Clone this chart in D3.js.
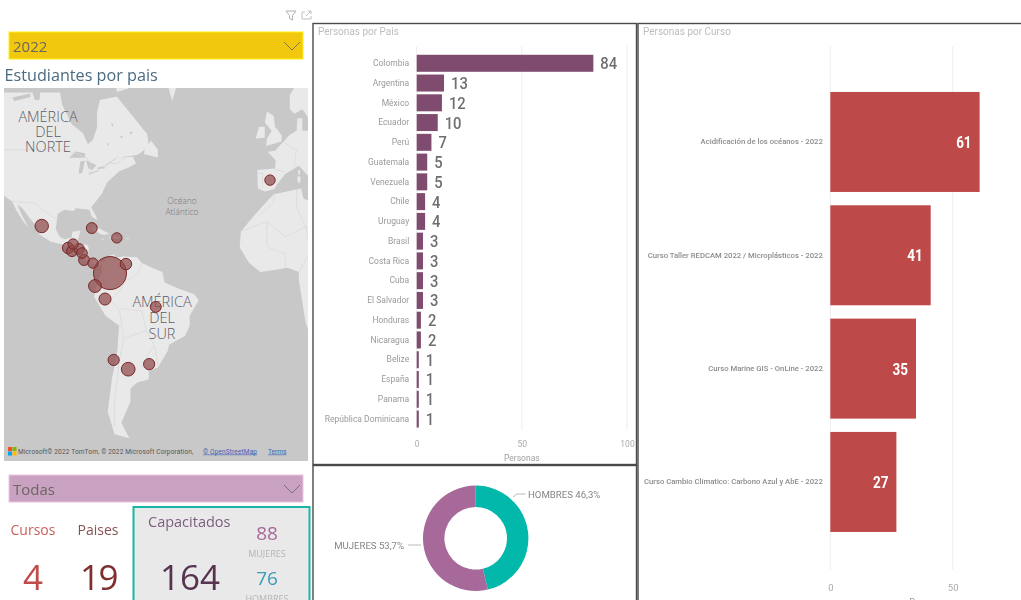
<!DOCTYPE html>
<html>
<head>
<meta charset="utf-8">
<script src="https://cdn.jsdelivr.net/npm/d3@7"></script>
<style>
  html, body { margin: 0; padding: 0; background: #fff; overflow: hidden; }
  svg { display: block; filter: blur(0.55px); }
  text { font-family: Roboto, sans-serif; }
  .segoe { font-family: "Open Sans", sans-serif; }
</style>
</head>
<body>
<div id="root"></div>
<script>
// country chart
const countries = ['Colombia', 'Argentina', 'México', 'Ecuador', 'Perú', 'Guatemala', 'Venezuela', 'Chile', 'Uruguay', 'Brasil', 'Costa Rica', 'Cuba', 'El Salvador', 'Honduras', 'Nicaragua', 'Belize', 'España', 'Panama', 'República Dominicana']
const countryValues = [84, 13, 12, 10, 7, 5, 5, 4, 4, 3, 3, 3, 3, 2, 2, 1, 1, 1, 1]
const countryTicks = [0, 50, 100]

// course chart
const courses = ['Acidificación de los océanos - 2022', 'Curso Taller REDCAM 2022 / Microplásticos - 2022', 'Curso Marine GIS - OnLine - 2022', 'Curso Cambio Climatico: Carbono Azul y AbE - 2022']
const courseValues = [61, 41, 35, 27]
const courseTicks = [0, 50]

// donut
const genders = ['HOMBRES', 'MUJERES']
const genderShares = [46.3, 53.7]
const genderColors = ['#01b8aa', '#a66999']

// bubble positions, same order as countries: [lon, lat]
const countryCoords = [[-74, 4], [-66, -34.5], [-104, 23.3], [-80.6, -1.5], [-76.2, -7], [-92.4, 14.5], [-67, 7.8], [-72.4, -31.2], [-56.8, -32.7], [-53.9, -10.3], [-85.4, 9.5], [-82, 22.5], [-90.7, 13.2], [-87.6, 14.1], [-86.3, 12.4], [-90.2, 16.1], [-3.7, 39.8], [-81.5, 8.2], [-71, 18.6]]

// rough coastlines for the base map: [lon, lat]
const landShapes = [
  [[-130, 62.5], [-96, 62.5], [-95, 60], [-90.7, 55.5], [-85.9, 53.4], [-83.7, 50.5], [-81.5, 51.7], [-79.7, 54.8], [-79.7, 58.3], [-78.4, 61], [-71, 61.7], [-66.5, 59], [-57.7, 53.2], [-56.8, 49.9], [-62, 47.5], [-70, 46.8], [-64, 47], [-62.6, 45], [-66, 43.7], [-70, 42.6], [-75.3, 39], [-77.5, 35.3], [-82.3, 30.3], [-80, 27], [-79.7, 25.5], [-82, 27], [-83, 29.5], [-85, 29.7], [-89, 30], [-90, 29], [-94, 29.5], [-97, 28], [-97.8, 22], [-96, 19], [-94, 18], [-91, 18.7], [-90.5, 21], [-87, 21.5], [-88, 18], [-88.5, 16], [-84, 15.8], [-83.3, 14.5], [-83.7, 11], [-82, 9], [-79.5, 9.5], [-77.5, 8.5], [-78, 7.5], [-80, 7.4], [-83, 8.2], [-85.7, 10], [-87.5, 13], [-92, 14.5], [-95, 16], [-100, 17], [-105, 20], [-106, 23], [-109, 26], [-112.5, 30], [-114.7, 31.5], [-113, 28], [-110, 23], [-112, 25], [-115, 29], [-117, 32.5], [-120.5, 34.5], [-124, 40], [-124, 48], [-130, 54]],
  [[-77.5, 8.5], [-75, 11], [-72, 12], [-71.5, 10.5], [-68, 11], [-62, 10.7], [-60, 8.3], [-55, 6], [-51, 4.5], [-50, 0], [-44, -2.5], [-37, -5], [-35, -7.5], [-39, -14], [-39, -18], [-41, -22], [-48, -25.5], [-48.7, -28], [-53, -34], [-57, -34.7], [-57, -38], [-62, -39], [-65, -41], [-65, -45], [-69, -51], [-65.5, -55], [-72, -54], [-75, -48], [-73, -37], [-71, -30], [-70, -18], [-76, -14], [-81, -6], [-80, -2], [-79, 1.5], [-77.5, 4], [-77.5, 7]],
  [[-50, 66], [-46.7, 60.8], [-43, 66]],
  [[-72, 66], [-65, 66], [-66, 63.2], [-71, 62.6]],
  [[-59, 47.7], [-53, 46.8], [-53, 49], [-56, 51.5], [-59, 48.5]],
  [[-85, 22], [-80, 23], [-74.2, 20.2], [-77.5, 19.9], [-82, 22]],
  [[-74.4, 18.5], [-72.5, 19.9], [-68.4, 18.7], [-71, 18]],
  [[-78.3, 18.4], [-76.3, 18.2], [-77, 17.8]],
  [[-67.2, 18.5], [-65.6, 18.4], [-66, 17.9]],
  [[-5.5, 50], [1.3, 51.2], [1.5, 52.8], [-1.5, 55], [-2, 57.5], [-5, 58.5], [-6, 56], [-3, 54], [-5, 52]],
  [[-10, 52], [-6, 52.2], [-6, 55], [-8.5, 55]],
  [[-9, 37], [-9.3, 43], [-1.5, 43.5], [-1.2, 46], [-4.7, 48.4], [-1.5, 48.7], [2, 51], [5, 53], [8, 54], [8.3, 57], [10.5, 57], [10.5, 54], [14, 54], [40, 55], [40, 40], [30, 45], [13, 45.5], [18, 40], [16, 38.5], [12, 42], [9, 44.3], [6, 43], [3, 41.8], [0, 39], [-2, 36.8], [-6, 36]],
  [[7, 58], [5, 59], [5, 62], [14, 68], [30, 72], [30, 60], [18, 60], [14, 56], [12, 58], [10.5, 59]],
  [[8.3, 41], [9.7, 41], [9.6, 39], [8.5, 39]],
  [[8.7, 43], [9.5, 43], [9.4, 41.5], [8.8, 41.5]],
  [[12.5, 38], [15.5, 38.2], [15, 36.8]],
  [[-16.5, 21], [-13, 25], [-9.5, 28.5], [-4, 33.5], [-2, 35], [10, 37], [11, 33.5], [20, 31], [35, 31], [50, 10], [40, -15], [20, -35], [12, -17], [9, 1], [9, 4.5], [4, 6.3], [-4, 5], [-8, 4.4], [-13, 8.5], [-17, 14.7]]
]
// lakes and channels, painted back in sea colour
const waterShapes = [
  [[-92, 46.7], [-85, 46.7], [-85, 48], [-89, 48.5]],
  [[-87.8, 42], [-86.3, 42], [-85, 45.8], [-87, 45.6]],
  [[-84.5, 46], [-80, 44.5], [-81.8, 43], [-83.5, 43.5]],
  [[-83.5, 41.5], [-79, 42.7], [-79, 43], [-83, 42.2]],
  [[-79.7, 43.3], [-76.2, 43.5], [-76.5, 44.2], [-79, 43.9]],
  [[-76, 44.2], [-71, 46.6], [-70.5, 47], [-75.5, 44.8]],
  [[-117, 61.5], [-109, 62.3], [-109, 61.6], [-116, 60.8]],
  [[-110, 65], [-104, 65], [-105, 61], [-107, 61]],
  [[-73.6, 55.8], [-72.4, 55.6], [-73, 55]],
  [[-69.6, 52.8], [-68.4, 52.6], [-69, 52]],
  [[-75.6, 50.8], [-74.6, 50.6], [-75, 50]],
  [[-65.5, 53.8], [-64, 53.6], [-64.8, 53]]
]
const borderLines = [
  [[-123, 49], [-95, 49], [-89, 48], [-84, 46.5], [-82.5, 45], [-82.5, 42], [-79, 43], [-75, 45], [-71, 45], [-67, 47]],
  [[-117, 32.5], [-106.5, 31.8], [-103, 29], [-97.5, 26]],
  [[-92, 14.5], [-91, 17], [-88.5, 17.8]],
  [[-72, 12], [-72.5, 7.5], [-67.5, 6], [-67, 1], [-70, -4], [-74, -7.5], [-70, -11], [-69, -17], [-70, -18]],
  [[-60, 8.3], [-61, 5], [-64, 2], [-67, 1]],
  [[-79, 1.5], [-75, 0], [-78, -3.5], [-80.5, -3.5]],
  [[-69, -17], [-68, -23], [-70, -32], [-72, -45], [-72, -52]],
  [[-68, -23], [-58, -20], [-60, -12], [-69, -11]],
  [[-58, -20], [-54.5, -26], [-58, -30], [-58, -34]],
  [[-54.5, -26], [-53, -33]],
  [[-17, 21], [-5, 25], [-5, 15], [3, 12], [3, 6.3]],
  [[-9, 27], [-2, 32], [-2, 35]],
  [[8, 37], [8, 30], [12, 23], [14, 13], [9, 4.5]],
  [[-5, 25], [3, 19], [12, 23], [24, 20], [24, 31]],
  [[-9, 42], [-7, 42], [-7, 37.2]],
  [[-1.7, 43.3], [3, 42.4]],
  [[2.5, 51], [6, 49.5], [8, 49], [7.5, 47.5], [7, 44]]
]

// filter labels
const yearSlicer = '2022'
const courseSlicer = 'Todas'
const cardCursos = 4
const cardPaises = 19
const cardCapacitados = 164
const cardMujeres = 88
const cardHombres = 76

const svg = d3.select('#root').append('svg')
  .attr('width', 1021)
  .attr('height', 600)

function drawChevron (x, y) {
  svg.append('path')
    .attr('d', d3.line()([[x - 8, y - 4], [x, y + 4], [x + 8, y - 4]]))
    .attr('fill', 'none')
    .attr('stroke', '#66625a')
    .attr('stroke-width', 0.8)
}

function drawSlicer (y, fill, label) {
  svg.append('rect')
    .attr('x', 9)
    .attr('y', y)
    .attr('width', 294)
    .attr('height', 27)
    .attr('fill', fill)
    .attr('stroke', d3.color(fill).brighter(0.5))
    .attr('stroke-width', 1)
  svg.append('text')
    .attr('class', 'segoe')
    .attr('x', 13)
    .attr('y', y + 20)
    .attr('font-size', 15)
    .attr('fill', '#6a6660')
    .text(label)
  drawChevron(292, y + 14)
}

//
// Header icons
svg.append('path')
  .attr('d', d3.line()([[286, 11], [296, 11], [292.5, 15.5], [292.5, 20], [289.5, 18.5], [289.5, 15.5], [286, 11]]))
  .attr('fill', 'none')
  .attr('stroke', '#b0b0b0')
svg.append('path')
  .attr('d', 'M305 12H302V19H311V16M306 16L311 11M308 11H311V14')
  .attr('fill', 'none')
  .attr('stroke', '#c0c0c0')

drawSlicer(32, '#f2c80f', yearSlicer)
svg.append('text')
  .attr('class', 'segoe')
  .attr('x', 4.5)
  .attr('y', 81)
  .attr('font-size', 16.2)
  .attr('fill', '#4a6b80')
  .text('Estudiantes por pais')

//
// Map
const mapBox = { x: 4, y: 88, width: 304, height: 373 }
const lonScale = d3.scaleLinear().domain([-3.7, -74]).range([270, 110])
const mercScale = d3.scaleLinear().domain([0, 1]).range([282.5, 147.5])
const merc = lat => Math.log(Math.tan(Math.PI / 4 + lat * Math.PI / 360))
const mapX = d => lonScale(d[0])
const mapY = d => mercScale(merc(d[1]))
const closedLine = d3.line().x(mapX).y(mapY).curve(d3.curveLinearClosed)
const openLine = d3.line().x(mapX).y(mapY)

svg.append('clipPath')
  .attr('id', 'map_clip')
  .append('rect')
  .attr('x', mapBox.x)
  .attr('y', mapBox.y)
  .attr('width', mapBox.width)
  .attr('height', mapBox.height)

const map = svg.append('g').attr('clip-path', 'url(#map_clip)')
map.append('rect')
  .attr('x', mapBox.x)
  .attr('y', mapBox.y)
  .attr('width', mapBox.width)
  .attr('height', mapBox.height)
  .attr('fill', '#c8c8c8')
map.selectAll('path.land')
  .data(landShapes)
  .join('path')
  .attr('class', 'land')
  .attr('d', closedLine)
  .attr('fill', '#e9e9e9')
map.selectAll('path.water')
  .data(waterShapes)
  .join('path')
  .attr('class', 'water')
  .attr('d', closedLine)
  .attr('fill', '#c8c8c8')
map.selectAll('path.border')
  .data(borderLines)
  .join('path')
  .attr('class', 'border')
  .attr('d', openLine)
  .attr('fill', 'none')
  .attr('stroke', '#d8d8d8')
  .attr('stroke-width', 0.7)

function mapLabel (lines, x, y, lineHeight, size, color) {
  map.selectAll(null)
    .data(lines)
    .join('text')
    .attr('class', 'segoe')
    .attr('x', x)
    .attr('y', (_d, i) => y + i * lineHeight)
    .attr('text-anchor', 'middle')
    .attr('font-size', size)
    .attr('font-weight', 300)
    .attr('fill', color)
    .text(d => d)
}
mapLabel(['AMÉRICA', 'DEL', 'NORTE'], 48, 121.5, 15.2, 14.5, '#5c5c6a')
mapLabel(['Océano', 'Atlántico'], 182, 204, 11, 8.5, '#7a7a7a')
mapLabel(['AMÉRICA', 'DEL', 'SUR'], 162, 307, 16, 14.5, '#5c5c6a')

const bubbleRadius = d3.scaleLinear().domain([1, 84]).range([5.2, 16.5])
map.selectAll('circle')
  .data(countries.map((c, i) => ({ name: c, value: countryValues[i], coord: countryCoords[i] })))
  .join('circle')
  .attr('cx', d => mapX(d.coord))
  .attr('cy', d => mapY(d.coord))
  .attr('r', d => bubbleRadius(d.value))
  .attr('fill', '#8f4a4a')
  .attr('fill-opacity', 0.72)
  .attr('stroke', '#7a2a2b')
  .attr('stroke-width', 1)

// Attribution
const logoColors = ['#f25022', '#7fba00', '#00a4ef', '#ffb900']
map.selectAll('rect.logo')
  .data(logoColors)
  .join('rect')
  .attr('class', 'logo')
  .attr('x', (_d, i) => 8 + (i % 2) * 4.5)
  .attr('y', (_d, i) => 447 + Math.floor(i / 2) * 4.5)
  .attr('width', 4)
  .attr('height', 4)
  .attr('fill', d => d)
map.append('text')
  .attr('x', 18)
  .attr('y', 453.5)
  .attr('font-size', 6.5)
  .attr('letter-spacing', 0.15)
  .attr('fill', '#555')
  .text('Microsoft© 2022 TomTom, © 2022 Microsoft Corporation,')
map.append('text')
  .attr('x', 203)
  .attr('y', 453.5)
  .attr('font-size', 6.5)
  .attr('letter-spacing', 0.15)
  .attr('fill', '#3f5fb5')
  .attr('text-decoration', 'underline')
  .text('© OpenStreetMap')
map.append('text')
  .attr('x', 268)
  .attr('y', 453.5)
  .attr('font-size', 6.5)
  .attr('fill', '#3f5fb5')
  .attr('text-decoration', 'underline')
  .text('Terms')

//
// Cards
drawSlicer(475, '#c8a2c0', courseSlicer)

function cardText (x, y, size, color, label, anchor = 'middle') {
  return svg.append('text')
    .attr('class', 'segoe')
    .attr('x', x)
    .attr('y', y)
    .attr('font-size', size)
    .attr('text-anchor', anchor)
    .attr('fill', color)
    .text(label)
}
cardText(33, 534.5, 14, '#c9605d', 'Cursos')
cardText(98, 534.5, 14, '#8a5050', 'Paises')
cardText(33, 590, 35, '#bf4b4b', cardCursos)
cardText(98.5, 590, 35, '#7f2f2f', cardPaises).attr('letter-spacing', -1.5)
svg.append('rect')
  .attr('x', 133.5)
  .attr('y', 507)
  .attr('width', 176)
  .attr('height', 110)
  .attr('fill', '#e9e9e9')
  .attr('stroke', '#19b5a5')
  .attr('stroke-width', 2)
cardText(148, 527, 14.5, '#7c5d80', 'Capacitados', 'start')
cardText(190, 590, 35, '#57334f', cardCapacitados)
cardText(267, 539.5, 19, '#a8689a', cardMujeres)
cardText(267, 556.5, 9, '#b5b5b5', 'MUJERES')
cardText(267, 585, 19, '#3d9ab8', cardHombres)
cardText(267, 602, 9, '#b5b5b5', 'HOMBRES')

//
// Panels
const panelBorder = '#4a4a4a'
function panel (x, y, width, height, label) {
  svg.append('rect')
    .attr('x', x)
    .attr('y', y)
    .attr('width', width)
    .attr('height', height)
    .attr('fill', '#fff')
    .attr('stroke', panelBorder)
    .attr('stroke-width', 1.4)
  if (label) {
    svg.append('text')
      .attr('x', x + 5)
      .attr('y', y + 11)
      .attr('font-size', 10)
      .attr('fill', '#bdbdbd')
      .text(label)
  }
}
panel(313, 23.5, 323.5, 441, 'Personas por Pais')
panel(313, 465.5, 323.5, 150)
panel(638, 23.5, 400, 600, 'Personas por Curso')

//
// Persons by country
const xCountry = d3.scaleLinear().domain([0, 100]).range([416.7, 627])
const yCountry = d3.scaleBand().domain(countries).range([53.4, 428.9]).paddingInner(0.14).paddingOuter(0.07)

svg.append('g')
  .selectAll('line')
  .data(countryTicks)
  .join('line')
  .attr('x1', d => xCountry(d))
  .attr('x2', d => xCountry(d))
  .attr('y1', 46)
  .attr('y2', 430)
  .attr('stroke', '#eeeeee')

svg.append('g')
  .selectAll('rect')
  .data(countries)
  .join('rect')
  .attr('x', xCountry(0))
  .attr('y', d => yCountry(d))
  .attr('width', (_d, i) => xCountry(countryValues[i]) - xCountry(0))
  .attr('height', yCountry.bandwidth())
  .attr('fill', '#7f4c70')

const yCountryAxis = svg.append('g')
  .attr('transform', 'translate(416.7, 0)')
  .call(d3.axisLeft(yCountry).tickSize(0).tickPadding(7.5))
yCountryAxis.select('.domain').remove()
yCountryAxis.selectAll('text')
  .attr('font-size', 8.5)
  .attr('font-family', '"Open Sans", sans-serif')
  .attr('fill', '#9a9a9a')

const xCountryAxis = svg.append('g')
  .attr('transform', 'translate(0, 437.5)')
  .call(d3.axisBottom(xCountry).tickValues(countryTicks).tickSize(0).tickPadding(3))
xCountryAxis.select('.domain').remove()
xCountryAxis.selectAll('text')
  .attr('font-size', 8.5)
  .attr('fill', '#aaaaaa')

svg.append('text')
  .attr('x', xCountry(50))
  .attr('y', 461)
  .attr('text-anchor', 'middle')
  .attr('font-size', 8.5)
  .attr('fill', '#a0a0a0')
  .text('Personas')

// value labels are condensed to the DIN-like width of the original
svg.append('g')
  .selectAll('text')
  .data(countries)
  .join('text')
  .attr('x', (_d, i) => xCountry(countryValues[i]) + 7)
  .attr('y', d => yCountry(d) + yCountry.bandwidth() / 2 + 6)
  .attr('font-size', 16.5)
  .attr('font-weight', 500)
  .attr('fill', '#6e6e6e')
  .attr('textLength', (_d, i) => String(countryValues[i]).length * 8.4)
  .attr('lengthAdjust', 'spacingAndGlyphs')
  .text((_d, i) => countryValues[i])

//
// Donut
const donutCenter = [475.7, 538.3]
const pie = d3.pie().sort(null)
const arc = d3.arc().innerRadius(31.3).outerRadius(52.7)
svg.append('g')
  .attr('transform', `translate(${donutCenter})`)
  .selectAll('path')
  .data(pie(genderShares))
  .join('path')
  .attr('d', arc)
  .attr('fill', (_d, i) => genderColors[i])

svg.append('path')
  .attr('d', d3.line()([[513, 497], [517, 494], [525.5, 494]]))
  .attr('fill', 'none')
  .attr('stroke', '#bbbbbb')
svg.append('path')
  .attr('d', d3.line()([[408, 545], [421, 545]]))
  .attr('fill', 'none')
  .attr('stroke', '#bbbbbb')

const fmtShare = v => v.toFixed(1).replace('.', ',') + '%'
svg.append('text')
  .attr('x', 528)
  .attr('y', 497.5)
  .attr('font-size', 9.6)
  .attr('fill', '#858585')
  .text(genders[0] + ' ' + fmtShare(genderShares[0]))
svg.append('text')
  .attr('x', 404)
  .attr('y', 548.5)
  .attr('text-anchor', 'end')
  .attr('font-size', 9.6)
  .attr('fill', '#858585')
  .text(genders[1] + ' ' + fmtShare(genderShares[1]))

//
// Persons by course
const xCourse = d3.scaleLinear().domain([0, 50]).range([830.3, 952.7])
const yCourse = d3.scaleBand().domain(courses).range([85.3, 538.6]).paddingInner(0.1176).paddingOuter(0.0588)

svg.append('g')
  .selectAll('line')
  .data(courseTicks)
  .join('line')
  .attr('x1', d => xCourse(d))
  .attr('x2', d => xCourse(d))
  .attr('y1', 46)
  .attr('y2', 570)
  .attr('stroke', '#eeeeee')

svg.append('g')
  .selectAll('rect')
  .data(courses)
  .join('rect')
  .attr('x', xCourse(0))
  .attr('y', d => yCourse(d))
  .attr('width', (_d, i) => xCourse(courseValues[i]) - xCourse(0))
  .attr('height', yCourse.bandwidth())
  .attr('fill', '#bd4a48')

const yCourseAxis = svg.append('g')
  .attr('transform', 'translate(830.3, 0)')
  .call(d3.axisLeft(yCourse).tickSize(0).tickPadding(7.5))
yCourseAxis.select('.domain').remove()
yCourseAxis.selectAll('text')
  .attr('font-size', 7.7)
  .attr('font-weight', 500)
  .attr('fill', '#8c8c8c')

const xCourseAxis = svg.append('g')
  .attr('transform', 'translate(0, 581)')
  .call(d3.axisBottom(xCourse).tickValues(courseTicks).tickSize(0).tickPadding(3))
xCourseAxis.select('.domain').remove()
xCourseAxis.selectAll('text')
  .attr('font-size', 9.5)
  .attr('fill', '#aaaaaa')

svg.append('text')
  .attr('x', 928)
  .attr('y', 605)
  .attr('text-anchor', 'middle')
  .attr('font-size', 9)
  .attr('fill', '#a0a0a0')
  .text('Personas')

svg.append('g')
  .selectAll('text')
  .data(courses)
  .join('text')
  .attr('x', (_d, i) => xCourse(courseValues[i]) - 8)
  .attr('y', d => yCourse(d) + yCourse.bandwidth() / 2 + 6)
  .attr('text-anchor', 'end')
  .attr('font-size', 16.5)
  .attr('font-weight', 700)
  .attr('fill', '#fff')
  .attr('textLength', 15.5)
  .attr('lengthAdjust', 'spacingAndGlyphs')
  .text((_d, i) => courseValues[i])
</script>
</body>
</html>
